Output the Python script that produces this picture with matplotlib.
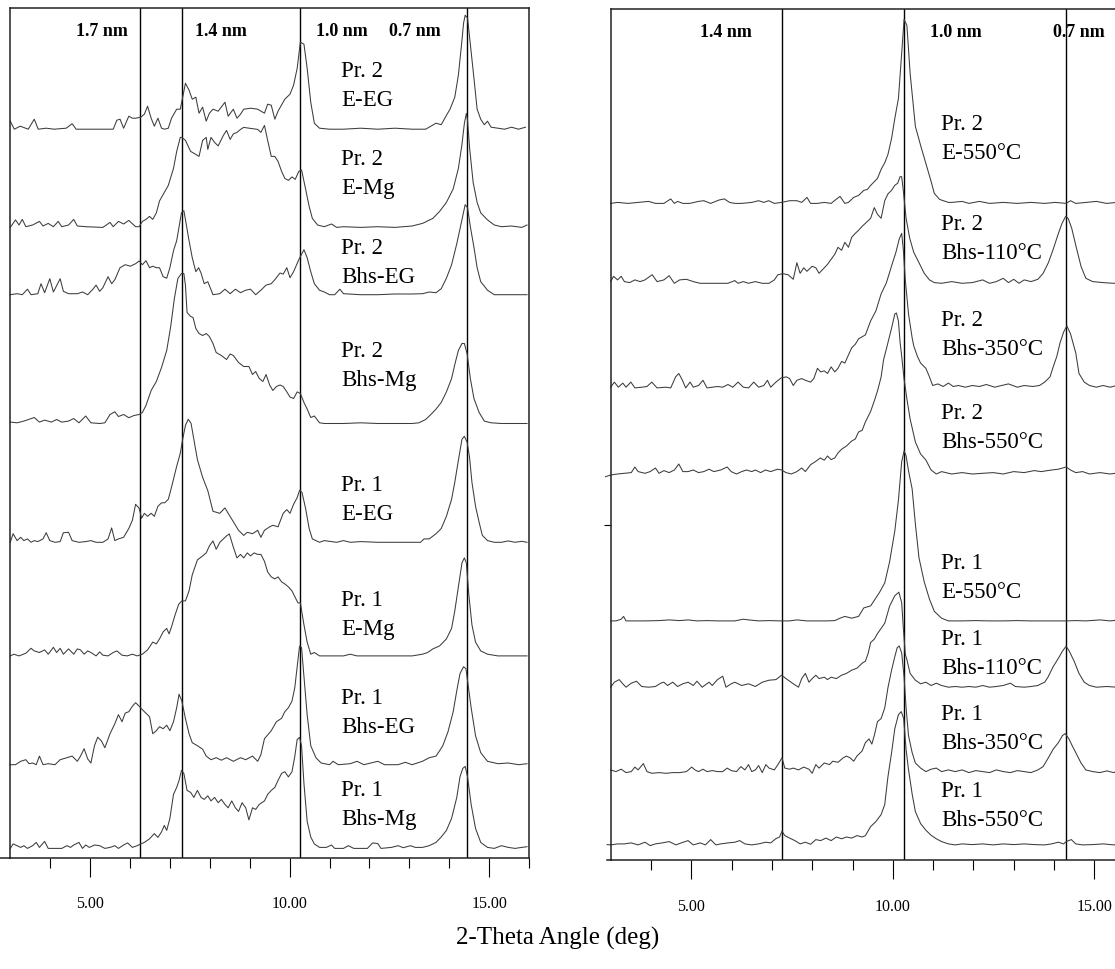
import matplotlib
matplotlib.use("Agg")
import matplotlib.pyplot as plt
import numpy as np

plt.rcParams['font.family'] = ['Liberation Serif', 'DejaVu Serif']

# ---------------- data: (2-theta [deg], intensity above own baseline [a.u.]) ----------------
pr2_e_eg = [(3.00,8),(3.10,0),(3.25,3),(3.45,0),(3.60,10),(3.70,0),(3.90,1),(4.10,0),(4.40,1),(4.55,5.5),(4.65,0),(5.00,0),(5.40,0),(5.58,0),(5.67,9),(5.75,10),(5.84,1),(5.97,13),(6.06,11),(6.14,11),(6.27,12),(6.36,15),(6.44,23),(6.53,11),(6.61,3),(6.70,11),(6.79,1),(6.87,0),(6.96,1),(7.04,11),(7.17,20),(7.26,20),(7.39,46),(7.48,39),(7.56,30),(7.65,32),(7.73,16),(7.82,22),(7.91,8),(7.99,16),(8.08,20),(8.21,18),(8.38,27),(8.46,13),(8.59,20),(8.68,11),(8.77,15),(8.85,20),(9.02,21),(9.20,20),(9.37,16),(9.45,25),(9.54,24),(9.63,10),(9.71,18),(9.88,30),(10.01,35),(10.10,44),(10.19,61),(10.27,87),(10.36,85),(10.44,61),(10.53,27),(10.62,6),(10.75,1),(11.00,0),(11.35,0),(11.78,1),(12.21,0),(12.64,1),(13.07,0),(13.41,0),(13.67,6),(13.80,4.5),(13.89,11),(14.02,20),(14.14,32),(14.23,54),(14.32,89),(14.36,106),(14.40,114),(14.46,111),(14.53,85),(14.62,51),(14.70,20),(14.79,10),(14.88,4.5),(14.96,8),(15.05,2),(15.22,1),(15.39,0),(15.56,2),(15.74,0),(15.91,2)]
pr2_e_mg = [(3.00,0),(3.13,7.5),(3.22,2.4),(3.30,8),(3.39,0.7),(3.56,2.4),(3.73,6),(3.82,1.4),(3.95,4),(4.08,0.7),(4.20,6),(4.29,0.7),(4.46,2.4),(4.59,8),(4.68,1.4),(4.89,0.7),(5.32,0),(5.50,5),(5.58,0.7),(5.71,6),(5.84,3.4),(5.97,7),(6.14,0.7),(6.23,0.7),(6.31,6),(6.40,8),(6.49,11),(6.57,8),(6.66,14.5),(6.74,26.5),(6.96,42),(7.09,59),(7.17,76),(7.26,90),(7.30,90),(7.39,87),(7.52,76),(7.65,73),(7.73,71),(7.82,87),(7.91,90),(7.95,78),(8.03,90),(8.12,85),(8.21,81.5),(8.34,92),(8.42,97),(8.51,88),(8.59,93.5),(8.68,95),(8.77,98),(8.85,100),(9.02,99),(9.20,98),(9.28,95),(9.37,102),(9.45,87),(9.54,71),(9.63,71),(9.71,66),(9.80,56),(9.88,49),(9.97,47),(10.06,50.5),(10.14,48),(10.23,56),(10.30,57.5),(10.40,38.5),(10.49,21),(10.57,9),(10.70,2.4),(10.87,0.7),(11.05,3.4),(11.18,0),(11.35,0.7),(11.78,0),(12.21,0.7),(12.64,0),(13.07,1.4),(13.33,4),(13.59,9),(13.76,16),(13.93,25),(14.10,38.5),(14.23,59),(14.32,83),(14.38,104),(14.43,114),(14.46,107),(14.51,80),(14.60,45),(14.70,25),(14.79,14.5),(14.96,7.5),(15.13,2.4),(15.31,0.7),(15.56,1.4),(15.82,0),(15.95,2.4)]
pr2_bhs_eg = [(3.00,0),(3.17,1),(3.30,0),(3.43,5.5),(3.52,0),(3.69,1),(3.77,11),(3.86,2),(3.99,16),(4.08,2.7),(4.25,16),(4.33,3.4),(4.46,1),(4.68,1),(4.81,2.7),(4.94,0),(5.07,5.5),(5.15,9.6),(5.24,3.4),(5.32,7),(5.45,18),(5.54,11),(5.62,15),(5.75,27),(5.88,30),(6.01,28.5),(6.14,31),(6.23,33.7),(6.31,30),(6.40,34),(6.49,27),(6.57,28.5),(6.66,27),(6.74,27),(6.83,18),(6.92,16.5),(7.00,27),(7.09,44),(7.17,54),(7.23,68),(7.29,82),(7.35,84),(7.39,75),(7.48,54),(7.56,37),(7.65,23),(7.72,27),(7.78,21.7),(7.86,11),(7.95,13),(8.08,0),(8.25,1),(8.38,5.5),(8.51,1),(8.64,5.5),(8.77,2),(8.90,4.5),(9.02,5.5),(9.15,0),(9.28,4.5),(9.41,9.6),(9.54,11),(9.63,15),(9.76,21.7),(9.84,20.6),(9.93,27),(10.01,17),(10.10,23),(10.23,35),(10.36,45),(10.44,37),(10.53,23),(10.62,11),(10.75,4.5),(10.87,2.7),(11.00,0),(11.13,0),(11.26,5.5),(11.35,1),(11.78,0),(12.21,0),(12.64,0.7),(13.07,0.7),(13.33,1),(13.50,2.7),(13.67,2),(13.80,6),(13.93,16.5),(14.06,30),(14.19,51),(14.32,75),(14.40,90),(14.46,87),(14.53,68),(14.62,47.5),(14.70,27),(14.79,13),(14.96,4.5),(15.13,0),(15.48,0),(15.95,0)]
pr2_bhs_mg = [(3.00,1.4),(3.17,0.7),(3.34,2.4),(3.60,6),(3.73,1.4),(3.86,3.4),(4.03,1.4),(4.16,4),(4.29,1.4),(4.46,2.4),(4.59,5),(4.72,0.7),(4.89,7.5),(5.02,0.7),(5.24,0),(5.37,0.7),(5.50,9),(5.62,11.7),(5.71,7),(5.84,9),(5.97,5.8),(6.10,8),(6.23,9),(6.31,11),(6.40,18),(6.53,33),(6.66,42),(6.79,56),(6.92,73),(7.02,97),(7.11,124.5),(7.20,145),(7.29,150),(7.35,150),(7.39,138),(7.43,111),(7.52,107),(7.58,106),(7.65,95),(7.73,90),(7.82,88),(7.91,90),(7.99,87),(8.08,80),(8.16,71),(8.29,68),(8.42,64),(8.51,69.5),(8.59,68),(8.72,61),(8.85,57),(8.98,57),(9.07,49),(9.15,52),(9.24,45),(9.33,42),(9.41,49),(9.50,38.5),(9.58,33),(9.67,37),(9.76,38.5),(9.84,37),(9.93,31.6),(10.01,26.5),(10.10,25),(10.19,31.6),(10.27,30),(10.36,21),(10.44,14.4),(10.53,6),(10.62,7.5),(10.75,0.7),(10.87,0),(11.00,0),(11.35,0),(11.78,0.7),(12.21,0),(12.64,0),(13.07,0),(13.24,0.7),(13.41,4),(13.54,9),(13.67,14.4),(13.80,21),(13.93,31.6),(14.06,45),(14.14,59),(14.23,73),(14.32,80),(14.38,80),(14.45,69.5),(14.53,45),(14.62,25),(14.75,11),(14.88,2.4),(15.05,0.7),(15.31,0),(15.65,0),(15.95,0)]
pr1_e_eg = [(3.00,0),(3.07,8.6),(3.17,1.7),(3.26,5),(3.34,1.7),(3.43,3.4),(3.52,0),(3.60,1.7),(3.69,0.7),(3.82,3.4),(3.90,9.6),(3.99,1.7),(4.12,0),(4.25,0.7),(4.33,9.6),(4.46,10),(4.55,1.7),(4.72,0),(4.89,0.7),(5.02,1.7),(5.15,0),(5.32,0),(5.45,3.4),(5.54,14.4),(5.62,1.7),(5.71,3.4),(5.84,5),(5.97,13.8),(6.06,22),(6.14,38),(6.23,34),(6.29,24),(6.36,29),(6.44,26),(6.53,29),(6.61,26),(6.70,36),(6.79,39.5),(6.87,39.5),(6.96,43),(7.04,55),(7.17,76),(7.26,89),(7.32,103),(7.39,117),(7.46,123),(7.53,119),(7.60,103),(7.69,82.6),(7.82,65),(7.95,51.6),(8.08,31),(8.25,29),(8.38,34.4),(8.46,29),(8.59,20.6),(8.72,12),(8.85,6.9),(8.94,10),(9.07,8.6),(9.20,12),(9.28,5),(9.37,12),(9.50,15.5),(9.58,17),(9.71,15.5),(9.84,29),(9.93,32.7),(10.01,29),(10.10,38),(10.19,44.7),(10.25,52),(10.31,50),(10.40,34),(10.49,13.8),(10.57,3.4),(10.75,0),(10.87,1.7),(11.05,0.7),(11.18,0),(11.35,1.7),(11.52,0),(11.78,0.7),(12.21,0),(12.64,0),(13.07,0),(13.28,0),(13.37,3.4),(13.50,3.4),(13.67,8.6),(13.80,13.8),(13.93,26),(14.06,43),(14.14,60),(14.23,82),(14.32,103),(14.38,106),(14.45,100),(14.51,85),(14.57,60),(14.66,36),(14.75,20),(14.83,7),(14.96,1.7),(15.13,0),(15.31,0),(15.48,1.4),(15.65,0),(15.82,1),(15.95,0)]
pr1_e_mg = [(3.00,0),(3.09,1.7),(3.22,0),(3.39,2.7),(3.52,7.6),(3.60,5),(3.73,3.4),(3.86,6),(3.95,1.7),(4.08,8.6),(4.16,3.4),(4.25,7.6),(4.33,1.7),(4.46,7),(4.59,1.7),(4.68,7),(4.76,6),(4.85,1.7),(4.94,5),(5.02,3.4),(5.15,0),(5.24,4),(5.32,0.7),(5.45,0),(5.58,3.4),(5.67,5),(5.80,0.7),(5.93,0),(6.06,1.7),(6.18,0),(6.31,1.7),(6.44,6),(6.57,13.8),(6.66,12),(6.74,17),(6.83,24),(6.92,27.5),(6.98,22),(7.04,29),(7.13,41),(7.22,51.6),(7.30,55),(7.39,55),(7.48,65),(7.56,81),(7.69,96),(7.82,100),(7.91,103),(7.99,110),(8.08,115),(8.16,106.6),(8.25,113.5),(8.34,117),(8.42,120),(8.49,122),(8.58,110),(8.68,98),(8.77,101.5),(8.85,98),(8.94,103),(9.02,100),(9.11,103),(9.20,101.5),(9.28,101.5),(9.37,94.6),(9.45,84),(9.54,79),(9.63,77),(9.71,79),(9.80,74),(9.88,72),(9.97,69),(10.06,65),(10.14,58.5),(10.21,53),(10.27,53),(10.36,31),(10.44,13.8),(10.53,1.7),(10.62,3.4),(10.75,0),(11.00,0),(11.35,0),(11.52,1.7),(11.69,0),(12.21,0),(12.64,0),(13.07,0),(13.33,1.7),(13.46,3.4),(13.59,7),(13.76,10),(13.93,17),(14.06,27.5),(14.14,45),(14.23,69),(14.32,93),(14.38,98),(14.43,93),(14.49,62),(14.57,31),(14.66,13.8),(14.79,5),(14.96,1.7),(15.22,0),(15.48,0),(15.74,0),(15.95,0)]
pr1_bhs_eg = [(3.00,0),(3.13,0),(3.26,3.4),(3.39,5),(3.47,1),(3.56,1.7),(3.65,0),(3.73,8.6),(3.82,0),(3.95,1),(4.12,0),(4.25,5),(4.42,7),(4.55,8.6),(4.68,3.4),(4.76,8.6),(4.85,16),(4.94,5.8),(5.02,1.7),(5.11,19),(5.19,27.5),(5.28,24),(5.37,17),(5.50,31),(5.62,41),(5.71,50),(5.80,43),(5.88,51.6),(5.97,53),(6.06,58.5),(6.14,62),(6.23,58.5),(6.36,53),(6.49,48),(6.57,31),(6.66,34),(6.74,38),(6.83,36),(6.92,39.5),(7.00,34),(7.09,43),(7.17,57),(7.23,70.5),(7.30,63.6),(7.39,46),(7.48,31),(7.56,22),(7.69,19),(7.82,15.5),(7.91,8.6),(8.03,5),(8.16,7),(8.29,4.5),(8.42,7),(8.59,3.4),(8.77,7),(8.90,5),(9.07,8.6),(9.20,3.4),(9.28,10),(9.37,26),(9.54,34),(9.67,43),(9.80,46.4),(9.88,53),(9.97,57),(10.06,63.6),(10.13,77),(10.19,98),(10.25,118.7),(10.30,117),(10.36,88),(10.44,50),(10.53,19),(10.66,7),(10.79,1.7),(11.00,0),(11.09,3.4),(11.22,0),(11.52,1),(11.69,3.4),(11.86,0),(12.21,3.4),(12.38,0),(12.72,0),(12.90,2.4),(13.07,0),(13.33,3.4),(13.50,7),(13.67,8.6),(13.76,14),(13.84,19),(13.97,33),(14.10,53),(14.19,74),(14.27,91),(14.36,98),(14.42,96),(14.46,84),(14.55,57),(14.66,29),(14.79,12),(14.96,3.4),(15.22,1),(15.48,1.7),(15.74,0),(15.95,1)]
pr1_bhs_mg = [(3.00,0),(3.07,4.5),(3.17,2.7),(3.26,1),(3.34,2.7),(3.43,0),(3.56,2.7),(3.65,6),(3.73,1),(3.86,7),(3.95,0),(4.12,0),(4.29,0),(4.42,2.7),(4.51,1),(4.59,3.4),(4.72,6),(4.81,0),(4.89,3.4),(4.98,1),(5.11,3.4),(5.24,2.7),(5.37,0),(5.50,1),(5.62,2.7),(5.71,0),(5.84,3.4),(5.94,5.5),(6.06,1),(6.18,2.7),(6.27,4.5),(6.36,6),(6.49,9.6),(6.61,14.8),(6.70,11),(6.79,16.5),(6.86,23),(6.92,18),(7.00,30),(7.09,54),(7.17,61),(7.23,68),(7.29,78),(7.35,75),(7.43,58),(7.52,56),(7.60,51),(7.69,58),(7.78,51),(7.86,49),(7.95,52.6),(8.03,47.5),(8.12,51),(8.21,45.7),(8.29,49),(8.38,44),(8.46,40.6),(8.55,47.5),(8.64,40.6),(8.72,37),(8.81,45.7),(8.90,40.6),(8.98,28.5),(9.07,40.6),(9.15,39),(9.24,44),(9.37,47.5),(9.45,54),(9.54,58),(9.63,61),(9.71,68),(9.80,75),(9.88,76.7),(9.97,71.5),(10.06,76.7),(10.13,92),(10.19,109),(10.25,111),(10.30,102.5),(10.36,64.7),(10.44,27),(10.53,11.4),(10.62,4.5),(10.75,1),(10.92,1),(11.05,3.4),(11.13,0),(11.35,0),(11.47,2.7),(11.61,0),(11.95,0),(12.08,5.5),(12.21,4.8),(12.29,0),(12.55,1),(12.72,2.7),(12.85,0.7),(13.03,2.7),(13.15,1),(13.33,1),(13.50,2.7),(13.67,6),(13.80,11.4),(13.93,18),(14.06,30),(14.19,51),(14.27,71.5),(14.34,80),(14.40,82),(14.46,71.5),(14.55,44),(14.66,20),(14.79,6),(14.96,1),(15.13,0),(15.31,2.7),(15.48,1),(15.65,0),(15.82,1),(15.95,1.7)]

pr2_e_550 = [(3.00,0),(3.17,1),(3.43,0),(3.68,1),(3.94,2),(4.11,0),(4.32,0),(4.49,4.5),(4.58,0),(4.66,2),(4.79,0),(4.96,0),(5.18,2),(5.31,2.7),(5.48,0),(5.69,3.4),(5.82,4.5),(5.95,1),(6.08,0),(6.25,0),(6.50,1),(6.67,2.7),(6.80,1),(6.92,2.7),(7.06,0),(7.24,1),(7.44,2.7),(7.62,2.7),(7.74,1),(7.87,6),(7.96,0),(8.13,0),(8.30,1),(8.47,0),(8.55,2.7),(8.69,7),(8.81,0),(8.90,1),(9.03,6),(9.15,8),(9.28,13),(9.37,14),(9.45,18),(9.54,21.7),(9.62,25),(9.71,34),(9.80,40.6),(9.88,49),(9.97,65),(10.05,85),(10.14,105),(10.22,150),(10.28,184),(10.35,178),(10.43,130),(10.56,77),(10.69,58),(10.82,40),(10.95,22),(11.03,10),(11.16,4),(11.38,1),(11.46,1),(11.72,2),(11.89,0),(12.15,2),(12.40,0),(12.74,1),(13.09,0),(13.43,1),(13.77,0),(14.03,1),(14.30,0),(14.41,2.7),(14.54,0),(14.80,1),(15.05,2),(15.31,0),(15.56,1),(15.89,2)]
pr2_bhs_110 = [(3.00,1.7),(3.07,7),(3.17,3.4),(3.26,7),(3.34,1.7),(3.47,0.7),(3.60,3.4),(3.73,1.7),(3.85,3.4),(4.03,8.6),(4.15,1.7),(4.32,3.4),(4.45,7.6),(4.58,0),(4.71,3.4),(4.88,4),(5.05,1.7),(5.22,0),(5.39,0),(5.56,0),(5.73,0),(5.91,0),(6.08,2.7),(6.16,0),(6.29,1.7),(6.42,0),(6.59,1.7),(6.76,0),(6.93,0),(7.06,3.4),(7.15,8.6),(7.27,9.6),(7.40,8.6),(7.53,4),(7.62,20.6),(7.70,10),(7.79,15.5),(7.87,12),(8.00,17),(8.09,15.5),(8.17,10),(8.30,15.5),(8.38,19),(8.47,24),(8.56,29),(8.64,36),(8.73,33),(8.81,41),(8.90,36),(8.98,46),(9.07,50),(9.15,53),(9.24,57),(9.32,60),(9.45,65),(9.54,75.7),(9.62,69),(9.71,65),(9.80,82.6),(9.88,89.4),(9.97,93),(10.05,98),(10.12,100),(10.18,106.6),(10.22,106.6),(10.26,93),(10.33,65),(10.42,45),(10.52,31),(10.65,20.6),(10.78,10),(10.91,3.4),(11.03,0.7),(11.21,0),(11.46,1.7),(11.72,0),(11.97,0.7),(12.23,3.4),(12.40,0),(12.57,1.7),(12.74,5),(12.87,0.7),(13.00,4),(13.13,0),(13.26,3.4),(13.43,1.7),(13.60,4),(13.73,10),(13.86,20.6),(13.98,34),(14.11,50),(14.20,60),(14.29,67),(14.35,65),(14.44,55),(14.54,38),(14.67,17),(14.79,5),(14.96,1.7),(15.22,0.7),(15.48,0),(15.73,0),(15.89,0.7)]
pr2_bhs_350 = [(3.00,0.7),(3.09,5.8),(3.19,0.7),(3.30,4.8),(3.38,0.7),(3.50,5.8),(3.60,0),(3.77,0.7),(3.90,1.4),(4.02,5.8),(4.15,0),(4.37,0.7),(4.49,0),(4.61,11),(4.69,14.4),(4.78,7.6),(4.86,0),(4.97,5.8),(5.05,0.7),(5.18,2.4),(5.29,7.6),(5.39,0),(5.52,0.7),(5.65,1.4),(5.78,0.7),(5.91,3.4),(6.03,0.7),(6.16,5.8),(6.29,0.7),(6.42,0),(6.55,5.8),(6.67,0.7),(6.80,2.4),(6.89,7.6),(6.97,0.7),(7.10,5.8),(7.23,10),(7.36,11),(7.44,9.3),(7.53,2.4),(7.62,7.6),(7.74,9.3),(7.83,7.6),(7.96,5.8),(8.04,9.3),(8.13,19.6),(8.21,16),(8.30,17),(8.38,14.4),(8.47,21),(8.56,16),(8.64,19.6),(8.73,26.5),(8.81,24.8),(8.90,33),(8.98,40),(9.07,43.7),(9.15,49),(9.32,53),(9.45,67),(9.58,77),(9.71,94),(9.84,105),(9.97,122),(10.08,136),(10.16,149),(10.22,154.5),(10.26,139),(10.31,108),(10.39,74),(10.48,50),(10.52,42),(10.61,31.6),(10.69,24.8),(10.82,19.6),(10.91,11),(10.99,2.4),(11.12,4),(11.25,1.4),(11.38,4.8),(11.50,1.4),(11.63,2.4),(11.80,0.7),(11.97,2.4),(12.15,1.4),(12.32,3.4),(12.53,0.7),(12.70,2.4),(12.87,4),(13.09,0.7),(13.26,2.4),(13.47,1.4),(13.64,2.4),(13.77,5.8),(13.90,11),(13.98,21),(14.07,31.6),(14.15,45),(14.24,56),(14.32,62),(14.41,54),(14.54,35),(14.62,14.4),(14.75,5.8),(14.88,2.4),(15.05,0.7),(15.22,2.4),(15.39,0.7),(15.56,2.4),(15.73,0),(15.89,1.4)]
pr2_bhs_550 = [(2.87,-2.7),(3.00,-1),(3.17,0),(3.34,0.7),(3.51,1.4),(3.60,7),(3.68,2.4),(3.85,0.7),(3.98,2.4),(4.11,6),(4.20,0.7),(4.32,3.4),(4.45,1.4),(4.58,4),(4.69,10),(4.79,2.4),(4.92,2.4),(5.05,4),(5.18,1.4),(5.31,2.4),(5.44,4.8),(5.56,2.4),(5.73,4),(5.89,7),(5.99,2.4),(6.12,0),(6.25,2.4),(6.37,4),(6.50,2.4),(6.59,4),(6.72,1.4),(6.84,4),(6.97,2.4),(7.14,4.8),(7.24,4),(7.35,1.4),(7.48,0),(7.62,2.4),(7.74,6),(7.83,2.4),(7.96,9.3),(8.09,12.7),(8.20,16),(8.30,13.8),(8.38,18),(8.47,14.4),(8.56,16),(8.64,21),(8.73,24.8),(8.85,28),(8.98,33),(9.07,35),(9.15,42),(9.24,43.7),(9.32,52),(9.45,62.6),(9.54,73),(9.62,83),(9.71,97),(9.77,114),(9.84,125),(9.97,146),(10.05,160),(10.09,161),(10.14,153),(10.18,132),(10.22,118),(10.28,95),(10.35,75),(10.43,55),(10.56,32),(10.69,20),(10.82,14),(10.95,4),(11.08,0),(11.21,2.4),(11.46,0),(11.72,1.4),(11.97,0),(12.23,0.7),(12.49,1.4),(12.74,0),(13.00,2.4),(13.26,1.4),(13.51,3.4),(13.68,2.4),(13.94,4),(14.11,4.8),(14.30,7),(14.41,4),(14.54,1.4),(14.71,2.4),(14.88,0),(15.14,1.4),(15.39,0),(15.65,1.4),(15.89,0.7)]
pr1_e_550 = [(3.00,0),(3.13,0),(3.26,1.7),(3.32,4.5),(3.38,0),(3.60,0),(3.85,0),(4.20,0.3),(4.45,1),(4.71,0.3),(4.92,1),(5.14,0),(5.39,0.3),(5.65,0),(5.91,0),(6.08,0),(6.29,1.7),(6.42,1),(6.67,0),(6.93,0.3),(7.24,0),(7.44,0),(7.62,1),(7.87,0),(8.13,0),(8.38,0),(8.56,0.3),(8.69,2.7),(8.81,4.5),(8.98,2.7),(9.15,4.5),(9.28,13),(9.45,15),(9.67,28.5),(9.80,38),(9.92,59),(10.05,90),(10.14,121),(10.22,159),(10.28,170),(10.33,165),(10.39,150),(10.48,132),(10.56,97),(10.65,63),(10.78,39),(10.91,21.7),(11.03,9.6),(11.21,2.7),(11.38,0),(11.72,0),(12.06,0.3),(12.40,0),(12.74,0),(13.09,0.3),(13.43,0),(13.77,0),(14.30,0),(14.54,0.3),(14.80,0),(15.14,1),(15.39,0),(15.65,1),(15.89,0.3)]
pr1_bhs_110 = [(3.00,0),(3.09,5),(3.21,7.6),(3.30,3.4),(3.38,0),(3.51,4),(3.64,6),(3.77,0.7),(3.94,0),(4.11,0.7),(4.24,4),(4.32,5),(4.41,1.7),(4.54,5),(4.66,0.7),(4.79,3.4),(4.92,5),(5.05,1.7),(5.14,6),(5.27,0),(5.44,5),(5.52,1.7),(5.65,7.6),(5.78,11),(5.86,0),(5.99,3.4),(6.08,5),(6.25,1.7),(6.42,3.4),(6.59,0.7),(6.76,5),(6.93,7),(7.10,7.6),(7.24,12),(7.35,8.6),(7.53,3.4),(7.66,0),(7.74,8.6),(7.83,13.8),(7.92,5),(8.00,8.6),(8.09,12),(8.17,8.6),(8.30,10),(8.38,7.6),(8.47,10),(8.60,8.6),(8.73,12),(8.85,13.8),(8.98,17),(9.11,19),(9.24,24),(9.32,26),(9.39,34),(9.45,44.7),(9.54,48),(9.62,53.6),(9.80,64),(9.92,81),(10.05,91.5),(10.15,95),(10.22,84.6),(10.26,60),(10.31,33),(10.35,27.5),(10.43,13.8),(10.56,7),(10.69,3.4),(10.82,5),(10.95,1.7),(11.08,4),(11.21,1.7),(11.38,0),(11.55,0.7),(11.72,0),(11.89,0.7),(12.06,0),(12.23,1.7),(12.40,0),(12.57,0.7),(12.74,1.7),(12.92,4),(13.04,0.7),(13.26,0),(13.43,0.7),(13.60,1.7),(13.68,3.4),(13.77,5),(13.85,10),(13.98,20.6),(14.11,29),(14.21,36),(14.30,41),(14.38,36),(14.50,26),(14.62,13.8),(14.75,5),(14.88,1.7),(15.05,0),(15.31,0.7),(15.56,0),(15.89,0.7)]
pr1_bhs_350 = [(3.00,2.7),(3.13,1),(3.26,3.4),(3.38,0),(3.51,1),(3.60,5.5),(3.68,2.7),(3.81,9),(3.90,1),(4.02,-0.7),(4.20,0),(4.37,-0.7),(4.54,0),(4.71,0),(4.88,1),(5.01,5.5),(5.09,2.7),(5.18,1),(5.29,3.4),(5.39,1),(5.52,2),(5.65,1),(5.78,1),(5.89,4.5),(5.99,2),(6.12,1),(6.23,6),(6.33,2.7),(6.42,8),(6.50,1),(6.59,2.7),(6.67,7),(6.76,0),(6.85,8),(6.93,4.5),(7.06,2.7),(7.15,8),(7.25,14.8),(7.32,4.5),(7.44,3.4),(7.53,4.5),(7.66,2.7),(7.79,5.5),(7.92,3.4),(8.00,-0.7),(8.09,8),(8.17,4.5),(8.30,9.6),(8.43,8),(8.51,11.4),(8.64,10.3),(8.77,14.8),(8.85,16.5),(8.94,14.8),(9.03,11.4),(9.11,16.5),(9.24,21.7),(9.32,30),(9.41,33.7),(9.48,28.5),(9.54,37),(9.62,51),(9.71,54),(9.80,64.7),(9.88,85),(9.97,102.5),(10.05,116),(10.11,125),(10.16,126.6),(10.22,119.7),(10.28,95.6),(10.33,64.7),(10.39,37),(10.48,20),(10.56,9.6),(10.69,4.5),(10.82,1),(10.95,3.4),(11.08,4.5),(11.21,1),(11.38,2.7),(11.55,1),(11.72,2.7),(11.89,0),(12.06,2),(12.23,1),(12.40,0),(12.57,2.7),(12.74,1),(12.92,0),(13.09,2),(13.26,1),(13.43,0),(13.60,2.7),(13.73,6),(13.86,14.8),(13.98,23.4),(14.11,30),(14.21,37),(14.28,39),(14.37,33.7),(14.45,27),(14.54,20),(14.67,9.6),(14.79,2.7),(14.96,1),(15.14,0),(15.31,1.7),(15.48,0),(15.65,2.7),(15.89,1.7)]
pr1_bhs_550 = [(2.91,0),(3.00,-0.3),(3.17,0.7),(3.34,0.7),(3.51,1.7),(3.68,-0.3),(3.85,2.4),(3.98,-1),(4.11,0.7),(4.28,1.7),(4.45,3),(4.62,-0.3),(4.75,1.7),(4.92,4),(5.05,-0.3),(5.22,1.7),(5.35,-0.3),(5.48,5),(5.61,-0.3),(5.73,0.7),(5.91,1.7),(6.08,2.4),(6.20,4),(6.33,0.7),(6.50,-0.3),(6.67,0.7),(6.85,2.4),(6.97,1.7),(7.10,6),(7.19,7.6),(7.25,13.4),(7.32,9),(7.44,6.5),(7.57,4),(7.70,0.7),(7.83,2.4),(7.96,0.3),(8.09,5),(8.21,4),(8.34,6.5),(8.47,4),(8.60,7.6),(8.73,5.8),(8.85,7.6),(8.98,6.5),(9.11,9),(9.24,7.6),(9.32,9),(9.45,18),(9.58,23),(9.71,30),(9.80,40),(9.88,68),(9.97,92),(10.05,116),(10.14,130),(10.21,133),(10.27,126),(10.33,95),(10.39,75),(10.48,50.6),(10.56,33),(10.69,21),(10.82,14.4),(10.95,9.3),(11.08,5.8),(11.21,3),(11.38,0.7),(11.55,-0.3),(11.72,0.7),(11.97,0),(12.23,0.7),(12.49,-0.3),(12.74,0.7),(13.00,0),(13.26,0.7),(13.51,0),(13.77,-0.3),(13.94,0.7),(14.11,2.4),(14.24,0.7),(14.30,3),(14.43,5),(14.54,0.7),(14.71,-0.3),(14.96,0),(15.22,0.7),(15.48,-0.3),(15.65,0.7),(15.89,0)]

left_traces = [pr2_e_eg, pr2_e_mg, pr2_bhs_eg, pr2_bhs_mg, pr1_e_eg, pr1_e_mg, pr1_bhs_eg, pr1_bhs_mg]
left_names = ["Pr. 2\nE-EG", "Pr. 2\nE-Mg", "Pr. 2\nBhs-EG", "Pr. 2\nBhs-Mg",
              "Pr. 1\nE-EG", "Pr. 1\nE-Mg", "Pr. 1\nBhs-EG", "Pr. 1\nBhs-Mg"]
right_traces = [pr2_e_550, pr2_bhs_110, pr2_bhs_350, pr2_bhs_550, pr1_e_550, pr1_bhs_110, pr1_bhs_350, pr1_bhs_550]
right_names = ["Pr. 2\nE-550°C", "Pr. 2\nBhs-110°C", "Pr. 2\nBhs-350°C", "Pr. 2\nBhs-550°C",
               "Pr. 1\nE-550°C", "Pr. 1\nBhs-110°C", "Pr. 1\nBhs-350°C", "Pr. 1\nBhs-550°C"]

left_ref_angles = [6.25, 7.31, 10.26, 14.44]
left_ref_names = ["1.7 nm", "1.4 nm", "1.0 nm", "0.7 nm"]
right_ref_angles = [7.25, 10.28, 14.30]
right_ref_names = ["1.4 nm", "1.0 nm", "0.7 nm"]

major_ticks = [5, 10, 15]
major_labels = ["5.00", "10.00", "15.00"]
minor_ticks = [4, 6, 7, 8, 9, 11, 12, 13, 14, 16]

# ---------------- layout (stack offsets and label placements) ----------------
left_offsets = [728.5, 630.3, 563.0, 434.2, 315.4, 201.8, 93.0, 9.3]
left_label_y = [773.0, 685.0, 596.0, 492.5, 359.0, 244.0, 145.5, 54.0]
left_ref_label_x = [5.29, 8.29, 11.30, 13.14]
right_offsets = [657.0, 577.1, 472.5, 386.4, 239.5, 173.2, 87.8, 15.8]
right_label_y = [722.0, 622.0, 526.4, 433.4, 283.4, 207.8, 132.4, 54.9]
right_ref_label_x = [5.87, 11.57, 14.62]

W, H = 1115, 970
fig = plt.figure(figsize=(W / 100, H / 100), dpi=100)

trace_color = "#3c3c3c"


def style_axis(ax):
    ax.set_xlim(3, 16)
    ax.set_xticks(major_ticks)
    ax.set_xticklabels(major_labels)
    ax.set_xticks(minor_ticks, minor=True)
    ax.tick_params(axis="x", which="major", direction="out", length=14, width=0.8,
                   pad=13, labelsize=11.5, colors="black")
    ax.tick_params(axis="x", which="minor", direction="out", length=7, width=0.8)
    for s in ax.spines.values():
        s.set_linewidth(1.1)
        s.set_color("#222222")


axL = fig.add_axes([10.3 / W, (H - 858.7) / H, 518.7 / W, 850.1 / H])
axL.set_ylim(0, 850.1)
style_axis(axL)
axL.set_yticks([])
for xv in left_ref_angles:
    axL.axvline(xv, color="black", lw=1.0)
for tr, off in zip(left_traces, left_offsets):
    arr = np.array(tr)
    axL.plot(arr[:, 0], arr[:, 1] + off, color=trace_color, lw=0.75, clip_on=False)
for name, yv in zip(left_names, left_label_y):
    axL.text(11.29, yv, name, fontsize=16.5, ha="left", va="center", linespacing=1.5)
for name, xv in zip(left_ref_names, left_ref_label_x):
    axL.text(xv, 827.5, name, fontsize=13, fontweight="bold", ha="center", va="center")
axL.plot([2.75, 3.0], [0, 0], color="#222222", lw=1.1, clip_on=False)

axR = fig.add_axes([610.7 / W, (H - 861.4) / H, 13 * 40.3 / W, 851.8 / H])
axR.set_ylim(0, 851.8)
style_axis(axR)
axR.set_yticks([861.4 - 526])
axR.set_yticklabels([])
axR.tick_params(axis="y", direction="out", length=5, width=0.8)
for xv in right_ref_angles:
    axR.axvline(xv, color="black", lw=1.0)
for tr, off in zip(right_traces, right_offsets):
    arr = np.array(tr)
    axR.plot(arr[:, 0], arr[:, 1] + off, color=trace_color, lw=0.75, clip_on=False)
for name, yv in zip(right_names, right_label_y):
    axR.text(11.20, yv, name, fontsize=16.5, ha="left", va="center", linespacing=1.5)
for name, xv in zip(right_ref_names, right_ref_label_x):
    axR.text(xv, 828.5, name, fontsize=13, fontweight="bold", ha="center", va="center")
axR.plot([2.9, 3.0], [0, 0], color="#222222", lw=1.1, clip_on=False)

fig.text(0.5, 1 - 938 / H, "2-Theta Angle (deg)", fontsize=18, ha="center", va="center")

fig.savefig("out.png", dpi=100)
